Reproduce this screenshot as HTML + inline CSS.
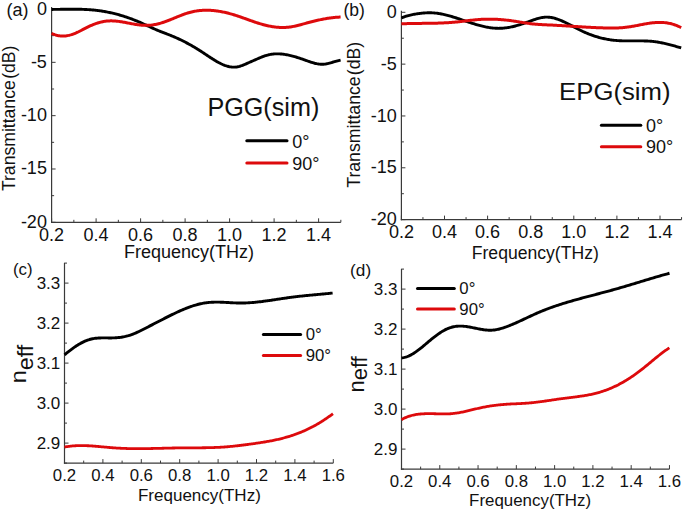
<!DOCTYPE html>
<html><head><meta charset="utf-8"><style>
html,body{margin:0;padding:0;background:#fff;}
svg{display:block;}
text{font-family:'Liberation Sans', sans-serif;fill:#111;}
</style></head><body>
<svg width="685" height="511" viewBox="0 0 685 511">
<rect width="685" height="511" fill="#fff"/>
<line x1="51.60" y1="7.00" x2="51.60" y2="222.92" stroke="#3a3a3a" stroke-width="1.2" stroke-linecap="butt"/>
<line x1="51.00" y1="222.32" x2="340.85" y2="222.32" stroke="#3a3a3a" stroke-width="1.2" stroke-linecap="butt"/>
<line x1="51.60" y1="222.32" x2="51.60" y2="218.32" stroke="#3a3a3a" stroke-width="1" stroke-linecap="butt"/>
<line x1="96.10" y1="222.32" x2="96.10" y2="218.32" stroke="#3a3a3a" stroke-width="1" stroke-linecap="butt"/>
<line x1="140.60" y1="222.32" x2="140.60" y2="218.32" stroke="#3a3a3a" stroke-width="1" stroke-linecap="butt"/>
<line x1="185.10" y1="222.32" x2="185.10" y2="218.32" stroke="#3a3a3a" stroke-width="1" stroke-linecap="butt"/>
<line x1="229.60" y1="222.32" x2="229.60" y2="218.32" stroke="#3a3a3a" stroke-width="1" stroke-linecap="butt"/>
<line x1="274.10" y1="222.32" x2="274.10" y2="218.32" stroke="#3a3a3a" stroke-width="1" stroke-linecap="butt"/>
<line x1="318.60" y1="222.32" x2="318.60" y2="218.32" stroke="#3a3a3a" stroke-width="1" stroke-linecap="butt"/>
<line x1="73.85" y1="222.32" x2="73.85" y2="219.82" stroke="#3a3a3a" stroke-width="1" stroke-linecap="butt"/>
<line x1="118.35" y1="222.32" x2="118.35" y2="219.82" stroke="#3a3a3a" stroke-width="1" stroke-linecap="butt"/>
<line x1="162.85" y1="222.32" x2="162.85" y2="219.82" stroke="#3a3a3a" stroke-width="1" stroke-linecap="butt"/>
<line x1="207.35" y1="222.32" x2="207.35" y2="219.82" stroke="#3a3a3a" stroke-width="1" stroke-linecap="butt"/>
<line x1="251.85" y1="222.32" x2="251.85" y2="219.82" stroke="#3a3a3a" stroke-width="1" stroke-linecap="butt"/>
<line x1="296.35" y1="222.32" x2="296.35" y2="219.82" stroke="#3a3a3a" stroke-width="1" stroke-linecap="butt"/>
<line x1="340.85" y1="222.32" x2="340.85" y2="219.82" stroke="#3a3a3a" stroke-width="1" stroke-linecap="butt"/>
<line x1="51.60" y1="9.00" x2="55.60" y2="9.00" stroke="#3a3a3a" stroke-width="1" stroke-linecap="butt"/>
<line x1="51.60" y1="62.33" x2="55.60" y2="62.33" stroke="#3a3a3a" stroke-width="1" stroke-linecap="butt"/>
<line x1="51.60" y1="115.66" x2="55.60" y2="115.66" stroke="#3a3a3a" stroke-width="1" stroke-linecap="butt"/>
<line x1="51.60" y1="168.99" x2="55.60" y2="168.99" stroke="#3a3a3a" stroke-width="1" stroke-linecap="butt"/>
<line x1="51.60" y1="222.32" x2="55.60" y2="222.32" stroke="#3a3a3a" stroke-width="1" stroke-linecap="butt"/>
<line x1="51.60" y1="35.66" x2="54.10" y2="35.66" stroke="#3a3a3a" stroke-width="1" stroke-linecap="butt"/>
<line x1="51.60" y1="89.00" x2="54.10" y2="89.00" stroke="#3a3a3a" stroke-width="1" stroke-linecap="butt"/>
<line x1="51.60" y1="142.33" x2="54.10" y2="142.33" stroke="#3a3a3a" stroke-width="1" stroke-linecap="butt"/>
<line x1="51.60" y1="195.66" x2="54.10" y2="195.66" stroke="#3a3a3a" stroke-width="1" stroke-linecap="butt"/>
<text x="46.90" y="14.50" font-size="18" text-anchor="end" >0</text>
<text x="46.90" y="67.83" font-size="18" text-anchor="end" >-5</text>
<text x="46.90" y="121.16" font-size="18" text-anchor="end" >-10</text>
<text x="46.90" y="174.49" font-size="18" text-anchor="end" >-15</text>
<text x="46.90" y="227.82" font-size="18" text-anchor="end" >-20</text>
<text x="51.60" y="241.20" font-size="18" text-anchor="middle" >0.2</text>
<text x="96.10" y="241.20" font-size="18" text-anchor="middle" >0.4</text>
<text x="140.60" y="241.20" font-size="18" text-anchor="middle" >0.6</text>
<text x="185.10" y="241.20" font-size="18" text-anchor="middle" >0.8</text>
<text x="229.60" y="241.20" font-size="18" text-anchor="middle" >1.0</text>
<text x="274.10" y="241.20" font-size="18" text-anchor="middle" >1.2</text>
<text x="318.60" y="241.20" font-size="18" text-anchor="middle" >1.4</text>
<text x="189.10" y="257.80" font-size="18" text-anchor="middle" >Frequency(THz)</text>
<text x="0" y="0" font-size="17.6" text-anchor="middle" transform="translate(14.6,118.3) rotate(-90)">Transmittance<tspan dx="1.5">(dB)</tspan></text>
<text x="6.50" y="15.90" font-size="18" text-anchor="start" >(a)</text>
<text x="207.40" y="115.70" font-size="25.2" text-anchor="start" >PGG(sim)</text>
<line x1="246.80" y1="140.70" x2="287.00" y2="140.70" stroke="#000" stroke-width="3.0" stroke-linecap="round"/>
<line x1="246.80" y1="163.10" x2="287.00" y2="163.10" stroke="#dd0a0c" stroke-width="3.0" stroke-linecap="round"/>
<text x="292.30" y="147.50" font-size="18" text-anchor="start" >0°</text>
<text x="292.30" y="169.60" font-size="18" text-anchor="start" >90°</text>
<path d="M51.6,9.44 L52.6,9.43 L53.6,9.42 L54.6,9.40 L55.6,9.39 L56.6,9.38 L57.6,9.36 L58.6,9.35 L59.6,9.33 L60.6,9.31 L61.6,9.30 L62.6,9.28 L63.6,9.27 L64.6,9.25 L65.6,9.24 L66.6,9.23 L67.6,9.22 L68.6,9.21 L69.6,9.20 L70.6,9.20 L71.6,9.19 L72.6,9.19 L73.6,9.19 L74.6,9.20 L75.6,9.20 L76.6,9.21 L77.6,9.23 L78.6,9.24 L79.6,9.27 L80.6,9.29 L81.6,9.32 L82.6,9.35 L83.6,9.39 L84.6,9.43 L85.6,9.48 L86.6,9.53 L87.6,9.59 L88.6,9.65 L89.6,9.72 L90.6,9.79 L91.6,9.87 L92.6,9.96 L93.6,10.05 L94.6,10.15 L95.6,10.25 L96.6,10.37 L97.6,10.49 L98.6,10.61 L99.6,10.75 L100.6,10.89 L101.6,11.04 L102.6,11.20 L103.6,11.36 L104.6,11.54 L105.6,11.72 L106.6,11.90 L107.6,12.10 L108.6,12.30 L109.6,12.51 L110.6,12.72 L111.6,12.95 L112.6,13.18 L113.6,13.42 L114.6,13.66 L115.6,13.92 L116.6,14.18 L117.6,14.45 L118.6,14.72 L119.6,15.00 L120.6,15.29 L121.6,15.59 L122.6,15.90 L123.6,16.21 L124.6,16.53 L125.6,16.85 L126.6,17.19 L127.6,17.53 L128.6,17.88 L129.6,18.24 L130.6,18.60 L131.6,18.97 L132.6,19.35 L133.6,19.74 L134.6,20.13 L135.6,20.53 L136.6,20.94 L137.6,21.35 L138.6,21.77 L139.6,22.20 L140.6,22.64 L141.6,23.09 L142.6,23.54 L143.6,23.99 L144.6,24.45 L145.6,24.91 L146.6,25.37 L147.6,25.84 L148.6,26.30 L149.6,26.77 L150.6,27.23 L151.6,27.69 L152.6,28.14 L153.6,28.59 L154.6,29.03 L155.6,29.47 L156.6,29.90 L157.6,30.32 L158.6,30.73 L159.6,31.13 L160.6,31.53 L161.6,31.92 L162.6,32.31 L163.6,32.69 L164.6,33.08 L165.6,33.46 L166.6,33.84 L167.6,34.23 L168.6,34.61 L169.6,35.00 L170.6,35.40 L171.6,35.81 L172.6,36.22 L173.6,36.64 L174.6,37.07 L175.6,37.50 L176.6,37.95 L177.6,38.40 L178.6,38.86 L179.6,39.33 L180.6,39.81 L181.6,40.30 L182.6,40.79 L183.6,41.30 L184.6,41.81 L185.6,42.32 L186.6,42.85 L187.6,43.39 L188.6,43.93 L189.6,44.48 L190.6,45.04 L191.6,45.60 L192.6,46.18 L193.6,46.76 L194.6,47.35 L195.6,47.95 L196.6,48.55 L197.6,49.17 L198.6,49.79 L199.6,50.42 L200.6,51.05 L201.6,51.70 L202.6,52.35 L203.6,53.01 L204.6,53.67 L205.6,54.34 L206.6,55.01 L207.6,55.68 L208.6,56.34 L209.6,57.01 L210.6,57.66 L211.6,58.32 L212.6,58.96 L213.6,59.59 L214.6,60.21 L215.6,60.81 L216.6,61.40 L217.6,61.97 L218.6,62.52 L219.6,63.04 L220.6,63.55 L221.6,64.03 L222.6,64.48 L223.6,64.90 L224.6,65.29 L225.6,65.65 L226.6,65.98 L227.6,66.27 L228.6,66.52 L229.6,66.73 L230.6,66.90 L231.6,67.03 L232.6,67.11 L233.6,67.15 L234.6,67.13 L235.6,67.07 L236.6,66.95 L237.6,66.79 L238.6,66.57 L239.6,66.30 L240.6,66.00 L241.6,65.66 L242.6,65.30 L243.6,64.90 L244.6,64.49 L245.6,64.06 L246.6,63.62 L247.6,63.17 L248.6,62.72 L249.6,62.28 L250.6,61.84 L251.6,61.40 L252.6,60.96 L253.6,60.53 L254.6,60.09 L255.6,59.66 L256.6,59.23 L257.6,58.79 L258.6,58.36 L259.6,57.93 L260.6,57.51 L261.6,57.09 L262.6,56.69 L263.6,56.31 L264.6,55.95 L265.6,55.62 L266.6,55.31 L267.6,55.04 L268.6,54.79 L269.6,54.58 L270.6,54.39 L271.6,54.23 L272.6,54.10 L273.6,54.00 L274.6,53.92 L275.6,53.87 L276.6,53.84 L277.6,53.84 L278.6,53.86 L279.6,53.90 L280.6,53.96 L281.6,54.04 L282.6,54.15 L283.6,54.27 L284.6,54.41 L285.6,54.57 L286.6,54.74 L287.6,54.94 L288.6,55.14 L289.6,55.36 L290.6,55.60 L291.6,55.85 L292.6,56.11 L293.6,56.38 L294.6,56.67 L295.6,56.96 L296.6,57.26 L297.6,57.58 L298.6,57.90 L299.6,58.22 L300.6,58.56 L301.6,58.90 L302.6,59.24 L303.6,59.59 L304.6,59.94 L305.6,60.29 L306.6,60.65 L307.6,61.01 L308.6,61.36 L309.6,61.71 L310.6,62.04 L311.6,62.37 L312.6,62.68 L313.6,62.97 L314.6,63.24 L315.6,63.48 L316.6,63.70 L317.6,63.89 L318.6,64.04 L319.6,64.16 L320.6,64.23 L321.6,64.26 L322.6,64.25 L323.6,64.19 L324.6,64.09 L325.6,63.95 L326.6,63.78 L327.6,63.58 L328.6,63.35 L329.6,63.10 L330.6,62.83 L331.6,62.55 L332.6,62.26 L333.6,61.97 L334.6,61.67 L335.6,61.37 L336.6,61.09 L337.6,60.81 L338.6,60.54 L339.6,60.30 L340.6,60.07" fill="none" stroke="#000" stroke-width="2.9" stroke-linejoin="round"/>
<path d="M51.6,33.33 L52.6,33.81 L53.6,34.23 L54.6,34.61 L55.6,34.95 L56.6,35.23 L57.6,35.47 L58.6,35.67 L59.6,35.82 L60.6,35.94 L61.6,36.01 L62.6,36.03 L63.6,36.02 L64.6,35.97 L65.6,35.89 L66.6,35.76 L67.6,35.60 L68.6,35.40 L69.6,35.17 L70.6,34.91 L71.6,34.61 L72.6,34.28 L73.6,33.92 L74.6,33.53 L75.6,33.12 L76.6,32.68 L77.6,32.21 L78.6,31.74 L79.6,31.24 L80.6,30.74 L81.6,30.22 L82.6,29.70 L83.6,29.18 L84.6,28.66 L85.6,28.14 L86.6,27.63 L87.6,27.13 L88.6,26.64 L89.6,26.17 L90.6,25.71 L91.6,25.27 L92.6,24.85 L93.6,24.44 L94.6,24.06 L95.6,23.69 L96.6,23.35 L97.6,23.02 L98.6,22.72 L99.6,22.43 L100.6,22.17 L101.6,21.93 L102.6,21.72 L103.6,21.53 L104.6,21.36 L105.6,21.22 L106.6,21.10 L107.6,21.01 L108.6,20.94 L109.6,20.89 L110.6,20.87 L111.6,20.87 L112.6,20.89 L113.6,20.93 L114.6,20.99 L115.6,21.06 L116.6,21.15 L117.6,21.26 L118.6,21.38 L119.6,21.51 L120.6,21.66 L121.6,21.82 L122.6,21.98 L123.6,22.16 L124.6,22.34 L125.6,22.53 L126.6,22.72 L127.6,22.91 L128.6,23.11 L129.6,23.31 L130.6,23.50 L131.6,23.69 L132.6,23.88 L133.6,24.07 L134.6,24.24 L135.6,24.41 L136.6,24.57 L137.6,24.72 L138.6,24.86 L139.6,24.98 L140.6,25.09 L141.6,25.19 L142.6,25.26 L143.6,25.32 L144.6,25.36 L145.6,25.37 L146.6,25.37 L147.6,25.35 L148.6,25.30 L149.6,25.24 L150.6,25.15 L151.6,25.05 L152.6,24.92 L153.6,24.77 L154.6,24.60 L155.6,24.41 L156.6,24.20 L157.6,23.97 L158.6,23.72 L159.6,23.45 L160.6,23.17 L161.6,22.86 L162.6,22.54 L163.6,22.21 L164.6,21.86 L165.6,21.51 L166.6,21.14 L167.6,20.76 L168.6,20.37 L169.6,19.98 L170.6,19.58 L171.6,19.17 L172.6,18.77 L173.6,18.36 L174.6,17.95 L175.6,17.54 L176.6,17.13 L177.6,16.72 L178.6,16.32 L179.6,15.92 L180.6,15.52 L181.6,15.14 L182.6,14.76 L183.6,14.39 L184.6,14.04 L185.6,13.69 L186.6,13.36 L187.6,13.04 L188.6,12.74 L189.6,12.45 L190.6,12.19 L191.6,11.94 L192.6,11.70 L193.6,11.49 L194.6,11.29 L195.6,11.11 L196.6,10.95 L197.6,10.81 L198.6,10.68 L199.6,10.56 L200.6,10.47 L201.6,10.39 L202.6,10.32 L203.6,10.27 L204.6,10.24 L205.6,10.22 L206.6,10.21 L207.6,10.22 L208.6,10.24 L209.6,10.28 L210.6,10.33 L211.6,10.39 L212.6,10.47 L213.6,10.56 L214.6,10.66 L215.6,10.78 L216.6,10.91 L217.6,11.05 L218.6,11.20 L219.6,11.36 L220.6,11.54 L221.6,11.72 L222.6,11.92 L223.6,12.13 L224.6,12.34 L225.6,12.57 L226.6,12.81 L227.6,13.06 L228.6,13.31 L229.6,13.58 L230.6,13.86 L231.6,14.14 L232.6,14.43 L233.6,14.73 L234.6,15.04 L235.6,15.36 L236.6,15.68 L237.6,16.01 L238.6,16.34 L239.6,16.68 L240.6,17.03 L241.6,17.38 L242.6,17.73 L243.6,18.08 L244.6,18.44 L245.6,18.79 L246.6,19.15 L247.6,19.51 L248.6,19.87 L249.6,20.22 L250.6,20.58 L251.6,20.93 L252.6,21.28 L253.6,21.62 L254.6,21.96 L255.6,22.30 L256.6,22.63 L257.6,22.95 L258.6,23.27 L259.6,23.58 L260.6,23.88 L261.6,24.17 L262.6,24.46 L263.6,24.73 L264.6,24.99 L265.6,25.25 L266.6,25.49 L267.6,25.72 L268.6,25.94 L269.6,26.14 L270.6,26.33 L271.6,26.51 L272.6,26.68 L273.6,26.83 L274.6,26.97 L275.6,27.10 L276.6,27.20 L277.6,27.30 L278.6,27.37 L279.6,27.44 L280.6,27.48 L281.6,27.51 L282.6,27.52 L283.6,27.51 L284.6,27.48 L285.6,27.44 L286.6,27.37 L287.6,27.29 L288.6,27.18 L289.6,27.06 L290.6,26.92 L291.6,26.75 L292.6,26.58 L293.6,26.38 L294.6,26.18 L295.6,25.96 L296.6,25.72 L297.6,25.48 L298.6,25.23 L299.6,24.97 L300.6,24.71 L301.6,24.44 L302.6,24.17 L303.6,23.89 L304.6,23.62 L305.6,23.34 L306.6,23.07 L307.6,22.80 L308.6,22.53 L309.6,22.27 L310.6,22.01 L311.6,21.75 L312.6,21.49 L313.6,21.24 L314.6,21.00 L315.6,20.76 L316.6,20.52 L317.6,20.29 L318.6,20.07 L319.6,19.85 L320.6,19.64 L321.6,19.43 L322.6,19.23 L323.6,19.04 L324.6,18.85 L325.6,18.67 L326.6,18.50 L327.6,18.34 L328.6,18.18 L329.6,18.03 L330.6,17.90 L331.6,17.77 L332.6,17.65 L333.6,17.53 L334.6,17.43 L335.6,17.34 L336.6,17.26 L337.6,17.19 L338.6,17.13 L339.6,17.08 L340.6,17.05" fill="none" stroke="#dd0a0c" stroke-width="3.0" stroke-linejoin="round"/>
<line x1="401.40" y1="10.80" x2="401.40" y2="220.22" stroke="#3a3a3a" stroke-width="1.2" stroke-linecap="butt"/>
<line x1="400.80" y1="219.62" x2="681.55" y2="219.62" stroke="#3a3a3a" stroke-width="1.2" stroke-linecap="butt"/>
<line x1="401.40" y1="219.62" x2="401.40" y2="215.62" stroke="#3a3a3a" stroke-width="1" stroke-linecap="butt"/>
<line x1="444.50" y1="219.62" x2="444.50" y2="215.62" stroke="#3a3a3a" stroke-width="1" stroke-linecap="butt"/>
<line x1="487.60" y1="219.62" x2="487.60" y2="215.62" stroke="#3a3a3a" stroke-width="1" stroke-linecap="butt"/>
<line x1="530.70" y1="219.62" x2="530.70" y2="215.62" stroke="#3a3a3a" stroke-width="1" stroke-linecap="butt"/>
<line x1="573.80" y1="219.62" x2="573.80" y2="215.62" stroke="#3a3a3a" stroke-width="1" stroke-linecap="butt"/>
<line x1="616.90" y1="219.62" x2="616.90" y2="215.62" stroke="#3a3a3a" stroke-width="1" stroke-linecap="butt"/>
<line x1="660.00" y1="219.62" x2="660.00" y2="215.62" stroke="#3a3a3a" stroke-width="1" stroke-linecap="butt"/>
<line x1="422.95" y1="219.62" x2="422.95" y2="217.12" stroke="#3a3a3a" stroke-width="1" stroke-linecap="butt"/>
<line x1="466.05" y1="219.62" x2="466.05" y2="217.12" stroke="#3a3a3a" stroke-width="1" stroke-linecap="butt"/>
<line x1="509.15" y1="219.62" x2="509.15" y2="217.12" stroke="#3a3a3a" stroke-width="1" stroke-linecap="butt"/>
<line x1="552.25" y1="219.62" x2="552.25" y2="217.12" stroke="#3a3a3a" stroke-width="1" stroke-linecap="butt"/>
<line x1="595.35" y1="219.62" x2="595.35" y2="217.12" stroke="#3a3a3a" stroke-width="1" stroke-linecap="butt"/>
<line x1="638.45" y1="219.62" x2="638.45" y2="217.12" stroke="#3a3a3a" stroke-width="1" stroke-linecap="butt"/>
<line x1="681.55" y1="219.62" x2="681.55" y2="217.12" stroke="#3a3a3a" stroke-width="1" stroke-linecap="butt"/>
<line x1="401.40" y1="12.30" x2="405.40" y2="12.30" stroke="#3a3a3a" stroke-width="1" stroke-linecap="butt"/>
<line x1="401.40" y1="64.13" x2="405.40" y2="64.13" stroke="#3a3a3a" stroke-width="1" stroke-linecap="butt"/>
<line x1="401.40" y1="115.96" x2="405.40" y2="115.96" stroke="#3a3a3a" stroke-width="1" stroke-linecap="butt"/>
<line x1="401.40" y1="167.79" x2="405.40" y2="167.79" stroke="#3a3a3a" stroke-width="1" stroke-linecap="butt"/>
<line x1="401.40" y1="219.62" x2="405.40" y2="219.62" stroke="#3a3a3a" stroke-width="1" stroke-linecap="butt"/>
<line x1="401.40" y1="38.22" x2="403.90" y2="38.22" stroke="#3a3a3a" stroke-width="1" stroke-linecap="butt"/>
<line x1="401.40" y1="90.05" x2="403.90" y2="90.05" stroke="#3a3a3a" stroke-width="1" stroke-linecap="butt"/>
<line x1="401.40" y1="141.88" x2="403.90" y2="141.88" stroke="#3a3a3a" stroke-width="1" stroke-linecap="butt"/>
<line x1="401.40" y1="193.71" x2="403.90" y2="193.71" stroke="#3a3a3a" stroke-width="1" stroke-linecap="butt"/>
<text x="396.80" y="17.90" font-size="18" text-anchor="end" >0</text>
<text x="396.80" y="69.73" font-size="18" text-anchor="end" >-5</text>
<text x="396.80" y="121.56" font-size="18" text-anchor="end" >-10</text>
<text x="396.80" y="173.39" font-size="18" text-anchor="end" >-15</text>
<text x="396.80" y="225.22" font-size="18" text-anchor="end" >-20</text>
<text x="401.40" y="237.60" font-size="18" text-anchor="middle" >0.2</text>
<text x="444.50" y="237.60" font-size="18" text-anchor="middle" >0.4</text>
<text x="487.60" y="237.60" font-size="18" text-anchor="middle" >0.6</text>
<text x="530.70" y="237.60" font-size="18" text-anchor="middle" >0.8</text>
<text x="573.80" y="237.60" font-size="18" text-anchor="middle" >1.0</text>
<text x="616.90" y="237.60" font-size="18" text-anchor="middle" >1.2</text>
<text x="660.00" y="237.60" font-size="18" text-anchor="middle" >1.4</text>
<text x="535.30" y="258.80" font-size="17.6" text-anchor="middle" >Frequency(THz)</text>
<text x="0" y="0" font-size="17.7" text-anchor="middle" transform="translate(360.4,114.75) rotate(-90)">Transmittance<tspan dx="1.2">(dB)</tspan></text>
<text x="343.50" y="15.80" font-size="17.5" text-anchor="start" >(b)</text>
<text x="0" y="0" font-size="24.5" transform="translate(559.1,99.6) scale(1.05,1)">EPG(sim)</text>
<line x1="601.40" y1="125.30" x2="640.80" y2="125.30" stroke="#000" stroke-width="3.0" stroke-linecap="round"/>
<line x1="601.40" y1="146.80" x2="640.80" y2="146.80" stroke="#dd0a0c" stroke-width="3.0" stroke-linecap="round"/>
<text x="646.00" y="131.60" font-size="18" text-anchor="start" >0°</text>
<text x="646.00" y="153.10" font-size="18" text-anchor="start" >90°</text>
<path d="M401.4,17.98 L402.4,17.56 L403.4,17.17 L404.4,16.80 L405.4,16.46 L406.4,16.14 L407.4,15.84 L408.4,15.56 L409.4,15.30 L410.4,15.06 L411.4,14.83 L412.4,14.62 L413.4,14.43 L414.4,14.24 L415.4,14.07 L416.4,13.91 L417.4,13.76 L418.4,13.62 L419.4,13.48 L420.4,13.36 L421.4,13.24 L422.4,13.14 L423.4,13.04 L424.4,12.96 L425.4,12.89 L426.4,12.84 L427.4,12.80 L428.4,12.77 L429.4,12.76 L430.4,12.77 L431.4,12.79 L432.4,12.83 L433.4,12.89 L434.4,12.97 L435.4,13.07 L436.4,13.18 L437.4,13.30 L438.4,13.45 L439.4,13.60 L440.4,13.78 L441.4,13.96 L442.4,14.16 L443.4,14.37 L444.4,14.60 L445.4,14.83 L446.4,15.08 L447.4,15.33 L448.4,15.60 L449.4,15.87 L450.4,16.16 L451.4,16.45 L452.4,16.75 L453.4,17.05 L454.4,17.36 L455.4,17.68 L456.4,18.00 L457.4,18.33 L458.4,18.65 L459.4,18.99 L460.4,19.32 L461.4,19.66 L462.4,20.00 L463.4,20.34 L464.4,20.68 L465.4,21.02 L466.4,21.36 L467.4,21.70 L468.4,22.03 L469.4,22.36 L470.4,22.69 L471.4,23.02 L472.4,23.34 L473.4,23.65 L474.4,23.96 L475.4,24.27 L476.4,24.57 L477.4,24.86 L478.4,25.14 L479.4,25.41 L480.4,25.68 L481.4,25.94 L482.4,26.18 L483.4,26.42 L484.4,26.64 L485.4,26.86 L486.4,27.06 L487.4,27.24 L488.4,27.42 L489.4,27.58 L490.4,27.73 L491.4,27.86 L492.4,27.98 L493.4,28.08 L494.4,28.16 L495.4,28.23 L496.4,28.28 L497.4,28.31 L498.4,28.33 L499.4,28.32 L500.4,28.30 L501.4,28.26 L502.4,28.20 L503.4,28.13 L504.4,28.04 L505.4,27.93 L506.4,27.81 L507.4,27.66 L508.4,27.51 L509.4,27.34 L510.4,27.15 L511.4,26.95 L512.4,26.73 L513.4,26.50 L514.4,26.25 L515.4,25.99 L516.4,25.72 L517.4,25.43 L518.4,25.14 L519.4,24.83 L520.4,24.51 L521.4,24.19 L522.4,23.86 L523.4,23.52 L524.4,23.17 L525.4,22.82 L526.4,22.47 L527.4,22.11 L528.4,21.75 L529.4,21.38 L530.4,21.02 L531.4,20.65 L532.4,20.29 L533.4,19.94 L534.4,19.60 L535.4,19.27 L536.4,18.95 L537.4,18.65 L538.4,18.37 L539.4,18.12 L540.4,17.88 L541.4,17.67 L542.4,17.50 L543.4,17.35 L544.4,17.24 L545.4,17.16 L546.4,17.13 L547.4,17.13 L548.4,17.18 L549.4,17.26 L550.4,17.38 L551.4,17.54 L552.4,17.73 L553.4,17.95 L554.4,18.20 L555.4,18.49 L556.4,18.79 L557.4,19.13 L558.4,19.49 L559.4,19.87 L560.4,20.27 L561.4,20.69 L562.4,21.13 L563.4,21.58 L564.4,22.05 L565.4,22.53 L566.4,23.02 L567.4,23.52 L568.4,24.03 L569.4,24.55 L570.4,25.07 L571.4,25.60 L572.4,26.12 L573.4,26.65 L574.4,27.18 L575.4,27.71 L576.4,28.24 L577.4,28.76 L578.4,29.27 L579.4,29.78 L580.4,30.27 L581.4,30.76 L582.4,31.24 L583.4,31.70 L584.4,32.15 L585.4,32.59 L586.4,33.02 L587.4,33.43 L588.4,33.84 L589.4,34.23 L590.4,34.61 L591.4,34.98 L592.4,35.34 L593.4,35.69 L594.4,36.02 L595.4,36.35 L596.4,36.66 L597.4,36.96 L598.4,37.25 L599.4,37.53 L600.4,37.79 L601.4,38.05 L602.4,38.29 L603.4,38.52 L604.4,38.74 L605.4,38.95 L606.4,39.15 L607.4,39.34 L608.4,39.51 L609.4,39.68 L610.4,39.83 L611.4,39.97 L612.4,40.10 L613.4,40.22 L614.4,40.33 L615.4,40.43 L616.4,40.51 L617.4,40.59 L618.4,40.66 L619.4,40.71 L620.4,40.76 L621.4,40.80 L622.4,40.84 L623.4,40.86 L624.4,40.89 L625.4,40.90 L626.4,40.91 L627.4,40.92 L628.4,40.92 L629.4,40.92 L630.4,40.92 L631.4,40.91 L632.4,40.90 L633.4,40.90 L634.4,40.89 L635.4,40.88 L636.4,40.88 L637.4,40.87 L638.4,40.87 L639.4,40.87 L640.4,40.88 L641.4,40.88 L642.4,40.90 L643.4,40.92 L644.4,40.94 L645.4,40.97 L646.4,41.01 L647.4,41.05 L648.4,41.11 L649.4,41.17 L650.4,41.24 L651.4,41.32 L652.4,41.42 L653.4,41.52 L654.4,41.64 L655.4,41.76 L656.4,41.90 L657.4,42.05 L658.4,42.21 L659.4,42.38 L660.4,42.57 L661.4,42.76 L662.4,42.96 L663.4,43.16 L664.4,43.38 L665.4,43.61 L666.4,43.84 L667.4,44.08 L668.4,44.33 L669.4,44.58 L670.4,44.84 L671.4,45.11 L672.4,45.38 L673.4,45.66 L674.4,45.94 L675.4,46.23 L676.4,46.52 L677.4,46.81 L678.4,47.11 L679.4,47.41 L680.4,47.71 L681.2,47.95" fill="none" stroke="#000" stroke-width="2.9" stroke-linejoin="round"/>
<path d="M401.4,23.85 L402.4,23.80 L403.4,23.76 L404.4,23.72 L405.4,23.68 L406.4,23.65 L407.4,23.62 L408.4,23.59 L409.4,23.57 L410.4,23.54 L411.4,23.52 L412.4,23.50 L413.4,23.49 L414.4,23.47 L415.4,23.45 L416.4,23.44 L417.4,23.43 L418.4,23.42 L419.4,23.40 L420.4,23.39 L421.4,23.38 L422.4,23.37 L423.4,23.36 L424.4,23.35 L425.4,23.34 L426.4,23.33 L427.4,23.32 L428.4,23.31 L429.4,23.29 L430.4,23.28 L431.4,23.26 L432.4,23.25 L433.4,23.23 L434.4,23.21 L435.4,23.18 L436.4,23.16 L437.4,23.13 L438.4,23.10 L439.4,23.07 L440.4,23.04 L441.4,23.00 L442.4,22.96 L443.4,22.92 L444.4,22.87 L445.4,22.82 L446.4,22.77 L447.4,22.71 L448.4,22.65 L449.4,22.58 L450.4,22.51 L451.4,22.44 L452.4,22.36 L453.4,22.27 L454.4,22.18 L455.4,22.09 L456.4,21.99 L457.4,21.89 L458.4,21.78 L459.4,21.67 L460.4,21.55 L461.4,21.44 L462.4,21.32 L463.4,21.20 L464.4,21.08 L465.4,20.95 L466.4,20.83 L467.4,20.71 L468.4,20.59 L469.4,20.47 L470.4,20.35 L471.4,20.24 L472.4,20.13 L473.4,20.02 L474.4,19.92 L475.4,19.82 L476.4,19.72 L477.4,19.63 L478.4,19.55 L479.4,19.48 L480.4,19.41 L481.4,19.34 L482.4,19.29 L483.4,19.24 L484.4,19.21 L485.4,19.17 L486.4,19.15 L487.4,19.14 L488.4,19.13 L489.4,19.13 L490.4,19.13 L491.4,19.15 L492.4,19.17 L493.4,19.19 L494.4,19.23 L495.4,19.27 L496.4,19.31 L497.4,19.37 L498.4,19.43 L499.4,19.49 L500.4,19.57 L501.4,19.64 L502.4,19.73 L503.4,19.82 L504.4,19.92 L505.4,20.02 L506.4,20.12 L507.4,20.24 L508.4,20.36 L509.4,20.48 L510.4,20.61 L511.4,20.74 L512.4,20.88 L513.4,21.02 L514.4,21.17 L515.4,21.32 L516.4,21.48 L517.4,21.64 L518.4,21.80 L519.4,21.96 L520.4,22.12 L521.4,22.28 L522.4,22.45 L523.4,22.61 L524.4,22.76 L525.4,22.92 L526.4,23.07 L527.4,23.22 L528.4,23.37 L529.4,23.51 L530.4,23.64 L531.4,23.77 L532.4,23.89 L533.4,24.00 L534.4,24.11 L535.4,24.20 L536.4,24.29 L537.4,24.37 L538.4,24.44 L539.4,24.50 L540.4,24.56 L541.4,24.61 L542.4,24.66 L543.4,24.71 L544.4,24.75 L545.4,24.80 L546.4,24.84 L547.4,24.88 L548.4,24.92 L549.4,24.97 L550.4,25.01 L551.4,25.06 L552.4,25.11 L553.4,25.16 L554.4,25.21 L555.4,25.27 L556.4,25.32 L557.4,25.38 L558.4,25.43 L559.4,25.49 L560.4,25.55 L561.4,25.61 L562.4,25.67 L563.4,25.73 L564.4,25.79 L565.4,25.85 L566.4,25.91 L567.4,25.98 L568.4,26.04 L569.4,26.10 L570.4,26.17 L571.4,26.23 L572.4,26.29 L573.4,26.36 L574.4,26.42 L575.4,26.48 L576.4,26.55 L577.4,26.61 L578.4,26.67 L579.4,26.73 L580.4,26.80 L581.4,26.86 L582.4,26.92 L583.4,26.98 L584.4,27.04 L585.4,27.09 L586.4,27.15 L587.4,27.21 L588.4,27.26 L589.4,27.31 L590.4,27.37 L591.4,27.42 L592.4,27.47 L593.4,27.52 L594.4,27.56 L595.4,27.61 L596.4,27.65 L597.4,27.69 L598.4,27.73 L599.4,27.77 L600.4,27.81 L601.4,27.84 L602.4,27.87 L603.4,27.90 L604.4,27.93 L605.4,27.96 L606.4,27.98 L607.4,28.00 L608.4,28.01 L609.4,28.02 L610.4,28.03 L611.4,28.03 L612.4,28.03 L613.4,28.02 L614.4,28.00 L615.4,27.98 L616.4,27.95 L617.4,27.92 L618.4,27.88 L619.4,27.83 L620.4,27.77 L621.4,27.70 L622.4,27.63 L623.4,27.54 L624.4,27.45 L625.4,27.34 L626.4,27.23 L627.4,27.11 L628.4,26.97 L629.4,26.82 L630.4,26.67 L631.4,26.51 L632.4,26.34 L633.4,26.16 L634.4,25.98 L635.4,25.79 L636.4,25.60 L637.4,25.41 L638.4,25.21 L639.4,25.02 L640.4,24.82 L641.4,24.63 L642.4,24.44 L643.4,24.25 L644.4,24.07 L645.4,23.89 L646.4,23.71 L647.4,23.55 L648.4,23.39 L649.4,23.24 L650.4,23.10 L651.4,22.97 L652.4,22.85 L653.4,22.74 L654.4,22.65 L655.4,22.57 L656.4,22.51 L657.4,22.46 L658.4,22.43 L659.4,22.42 L660.4,22.42 L661.4,22.44 L662.4,22.48 L663.4,22.54 L664.4,22.63 L665.4,22.73 L666.4,22.85 L667.4,23.00 L668.4,23.17 L669.4,23.36 L670.4,23.58 L671.4,23.83 L672.4,24.10 L673.4,24.39 L674.4,24.71 L675.4,25.06 L676.4,25.44 L677.4,25.85 L678.4,26.28 L679.4,26.75 L680.4,27.25 L681.2,27.66" fill="none" stroke="#dd0a0c" stroke-width="3.0" stroke-linejoin="round"/>
<line x1="64.50" y1="262.80" x2="64.50" y2="463.70" stroke="#3a3a3a" stroke-width="1.2" stroke-linecap="butt"/>
<line x1="63.90" y1="463.10" x2="333.30" y2="463.10" stroke="#3a3a3a" stroke-width="1.2" stroke-linecap="butt"/>
<line x1="64.50" y1="463.10" x2="64.50" y2="459.10" stroke="#3a3a3a" stroke-width="1" stroke-linecap="butt"/>
<line x1="102.90" y1="463.10" x2="102.90" y2="459.10" stroke="#3a3a3a" stroke-width="1" stroke-linecap="butt"/>
<line x1="141.30" y1="463.10" x2="141.30" y2="459.10" stroke="#3a3a3a" stroke-width="1" stroke-linecap="butt"/>
<line x1="179.70" y1="463.10" x2="179.70" y2="459.10" stroke="#3a3a3a" stroke-width="1" stroke-linecap="butt"/>
<line x1="218.10" y1="463.10" x2="218.10" y2="459.10" stroke="#3a3a3a" stroke-width="1" stroke-linecap="butt"/>
<line x1="256.50" y1="463.10" x2="256.50" y2="459.10" stroke="#3a3a3a" stroke-width="1" stroke-linecap="butt"/>
<line x1="294.90" y1="463.10" x2="294.90" y2="459.10" stroke="#3a3a3a" stroke-width="1" stroke-linecap="butt"/>
<line x1="333.30" y1="463.10" x2="333.30" y2="459.10" stroke="#3a3a3a" stroke-width="1" stroke-linecap="butt"/>
<line x1="83.70" y1="463.10" x2="83.70" y2="460.60" stroke="#3a3a3a" stroke-width="1" stroke-linecap="butt"/>
<line x1="122.10" y1="463.10" x2="122.10" y2="460.60" stroke="#3a3a3a" stroke-width="1" stroke-linecap="butt"/>
<line x1="160.50" y1="463.10" x2="160.50" y2="460.60" stroke="#3a3a3a" stroke-width="1" stroke-linecap="butt"/>
<line x1="198.90" y1="463.10" x2="198.90" y2="460.60" stroke="#3a3a3a" stroke-width="1" stroke-linecap="butt"/>
<line x1="237.30" y1="463.10" x2="237.30" y2="460.60" stroke="#3a3a3a" stroke-width="1" stroke-linecap="butt"/>
<line x1="275.70" y1="463.10" x2="275.70" y2="460.60" stroke="#3a3a3a" stroke-width="1" stroke-linecap="butt"/>
<line x1="314.10" y1="463.10" x2="314.10" y2="460.60" stroke="#3a3a3a" stroke-width="1" stroke-linecap="butt"/>
<line x1="64.50" y1="283.10" x2="68.50" y2="283.10" stroke="#3a3a3a" stroke-width="1" stroke-linecap="butt"/>
<line x1="64.50" y1="323.10" x2="68.50" y2="323.10" stroke="#3a3a3a" stroke-width="1" stroke-linecap="butt"/>
<line x1="64.50" y1="363.10" x2="68.50" y2="363.10" stroke="#3a3a3a" stroke-width="1" stroke-linecap="butt"/>
<line x1="64.50" y1="403.10" x2="68.50" y2="403.10" stroke="#3a3a3a" stroke-width="1" stroke-linecap="butt"/>
<line x1="64.50" y1="443.10" x2="68.50" y2="443.10" stroke="#3a3a3a" stroke-width="1" stroke-linecap="butt"/>
<line x1="64.50" y1="263.10" x2="67.00" y2="263.10" stroke="#3a3a3a" stroke-width="1" stroke-linecap="butt"/>
<line x1="64.50" y1="303.10" x2="67.00" y2="303.10" stroke="#3a3a3a" stroke-width="1" stroke-linecap="butt"/>
<line x1="64.50" y1="343.10" x2="67.00" y2="343.10" stroke="#3a3a3a" stroke-width="1" stroke-linecap="butt"/>
<line x1="64.50" y1="383.10" x2="67.00" y2="383.10" stroke="#3a3a3a" stroke-width="1" stroke-linecap="butt"/>
<line x1="64.50" y1="423.10" x2="67.00" y2="423.10" stroke="#3a3a3a" stroke-width="1" stroke-linecap="butt"/>
<line x1="64.50" y1="463.10" x2="67.00" y2="463.10" stroke="#3a3a3a" stroke-width="1" stroke-linecap="butt"/>
<text x="60.30" y="288.60" font-size="17.0" text-anchor="end" >3.3</text>
<text x="60.30" y="328.60" font-size="17.0" text-anchor="end" >3.2</text>
<text x="60.30" y="368.60" font-size="17.0" text-anchor="end" >3.1</text>
<text x="60.30" y="408.60" font-size="17.0" text-anchor="end" >3.0</text>
<text x="60.30" y="448.60" font-size="17.0" text-anchor="end" >2.9</text>
<text x="64.50" y="480.60" font-size="16.8" text-anchor="middle" >0.2</text>
<text x="102.90" y="480.60" font-size="16.8" text-anchor="middle" >0.4</text>
<text x="141.30" y="480.60" font-size="16.8" text-anchor="middle" >0.6</text>
<text x="179.70" y="480.60" font-size="16.8" text-anchor="middle" >0.8</text>
<text x="218.10" y="480.60" font-size="16.8" text-anchor="middle" >1.0</text>
<text x="256.50" y="480.60" font-size="16.8" text-anchor="middle" >1.2</text>
<text x="294.90" y="480.60" font-size="16.8" text-anchor="middle" >1.4</text>
<text x="333.30" y="480.60" font-size="16.8" text-anchor="middle" >1.6</text>
<text x="199.40" y="501.00" font-size="17" text-anchor="middle" >Frequency(THz)</text>
<text x="0" y="0" font-size="22" transform="translate(25.9,383.2) rotate(-90) scale(1.06,1)">n<tspan dy="6.6">eff</tspan></text>
<text x="13.00" y="275.10" font-size="16.8" text-anchor="start" >(c)</text>
<line x1="263.40" y1="334.40" x2="300.60" y2="334.40" stroke="#000" stroke-width="3.0" stroke-linecap="round"/>
<line x1="263.40" y1="355.50" x2="300.60" y2="355.50" stroke="#dd0a0c" stroke-width="3.0" stroke-linecap="round"/>
<text x="305.70" y="340.20" font-size="16.8" text-anchor="start" >0°</text>
<text x="305.70" y="361.20" font-size="16.8" text-anchor="start" >90°</text>
<path d="M64.5,354.89 L65.5,354.06 L66.5,353.24 L67.5,352.43 L68.5,351.63 L69.5,350.85 L70.5,350.08 L71.5,349.33 L72.5,348.59 L73.5,347.87 L74.5,347.17 L75.5,346.49 L76.5,345.83 L77.5,345.19 L78.5,344.57 L79.5,343.98 L80.5,343.40 L81.5,342.86 L82.5,342.34 L83.5,341.85 L84.5,341.38 L85.5,340.94 L86.5,340.54 L87.5,340.16 L88.5,339.82 L89.5,339.51 L90.5,339.23 L91.5,338.98 L92.5,338.77 L93.5,338.59 L94.5,338.43 L95.5,338.30 L96.5,338.19 L97.5,338.10 L98.5,338.03 L99.5,337.98 L100.5,337.94 L101.5,337.92 L102.5,337.90 L103.5,337.90 L104.5,337.90 L105.5,337.91 L106.5,337.91 L107.5,337.92 L108.5,337.93 L109.5,337.94 L110.5,337.94 L111.5,337.93 L112.5,337.91 L113.5,337.89 L114.5,337.85 L115.5,337.80 L116.5,337.73 L117.5,337.65 L118.5,337.56 L119.5,337.45 L120.5,337.33 L121.5,337.19 L122.5,337.03 L123.5,336.85 L124.5,336.65 L125.5,336.44 L126.5,336.20 L127.5,335.94 L128.5,335.66 L129.5,335.35 L130.5,335.02 L131.5,334.67 L132.5,334.30 L133.5,333.91 L134.5,333.50 L135.5,333.07 L136.5,332.63 L137.5,332.18 L138.5,331.71 L139.5,331.23 L140.5,330.75 L141.5,330.25 L142.5,329.75 L143.5,329.24 L144.5,328.73 L145.5,328.22 L146.5,327.70 L147.5,327.19 L148.5,326.67 L149.5,326.15 L150.5,325.63 L151.5,325.12 L152.5,324.60 L153.5,324.08 L154.5,323.56 L155.5,323.04 L156.5,322.52 L157.5,322.00 L158.5,321.48 L159.5,320.97 L160.5,320.45 L161.5,319.94 L162.5,319.43 L163.5,318.92 L164.5,318.41 L165.5,317.90 L166.5,317.39 L167.5,316.89 L168.5,316.39 L169.5,315.90 L170.5,315.40 L171.5,314.91 L172.5,314.42 L173.5,313.94 L174.5,313.46 L175.5,312.99 L176.5,312.52 L177.5,312.05 L178.5,311.59 L179.5,311.14 L180.5,310.70 L181.5,310.26 L182.5,309.82 L183.5,309.40 L184.5,308.99 L185.5,308.58 L186.5,308.18 L187.5,307.79 L188.5,307.41 L189.5,307.04 L190.5,306.69 L191.5,306.34 L192.5,306.00 L193.5,305.68 L194.5,305.37 L195.5,305.07 L196.5,304.78 L197.5,304.51 L198.5,304.25 L199.5,304.01 L200.5,303.77 L201.5,303.56 L202.5,303.36 L203.5,303.18 L204.5,303.01 L205.5,302.86 L206.5,302.72 L207.5,302.60 L208.5,302.50 L209.5,302.41 L210.5,302.33 L211.5,302.27 L212.5,302.22 L213.5,302.18 L214.5,302.15 L215.5,302.14 L216.5,302.13 L217.5,302.13 L218.5,302.14 L219.5,302.16 L220.5,302.19 L221.5,302.22 L222.5,302.26 L223.5,302.30 L224.5,302.35 L225.5,302.40 L226.5,302.45 L227.5,302.51 L228.5,302.56 L229.5,302.62 L230.5,302.68 L231.5,302.73 L232.5,302.79 L233.5,302.84 L234.5,302.88 L235.5,302.92 L236.5,302.96 L237.5,302.99 L238.5,303.01 L239.5,303.02 L240.5,303.03 L241.5,303.03 L242.5,303.02 L243.5,303.00 L244.5,302.97 L245.5,302.94 L246.5,302.90 L247.5,302.85 L248.5,302.80 L249.5,302.73 L250.5,302.67 L251.5,302.59 L252.5,302.51 L253.5,302.43 L254.5,302.34 L255.5,302.24 L256.5,302.14 L257.5,302.03 L258.5,301.92 L259.5,301.81 L260.5,301.69 L261.5,301.57 L262.5,301.44 L263.5,301.31 L264.5,301.18 L265.5,301.05 L266.5,300.91 L267.5,300.77 L268.5,300.62 L269.5,300.48 L270.5,300.33 L271.5,300.19 L272.5,300.04 L273.5,299.89 L274.5,299.73 L275.5,299.58 L276.5,299.43 L277.5,299.28 L278.5,299.13 L279.5,298.97 L280.5,298.82 L281.5,298.67 L282.5,298.52 L283.5,298.37 L284.5,298.22 L285.5,298.08 L286.5,297.94 L287.5,297.79 L288.5,297.65 L289.5,297.52 L290.5,297.38 L291.5,297.25 L292.5,297.12 L293.5,297.00 L294.5,296.88 L295.5,296.75 L296.5,296.64 L297.5,296.52 L298.5,296.41 L299.5,296.29 L300.5,296.18 L301.5,296.08 L302.5,295.97 L303.5,295.87 L304.5,295.76 L305.5,295.66 L306.5,295.56 L307.5,295.46 L308.5,295.36 L309.5,295.27 L310.5,295.17 L311.5,295.07 L312.5,294.98 L313.5,294.88 L314.5,294.79 L315.5,294.70 L316.5,294.60 L317.5,294.51 L318.5,294.42 L319.5,294.33 L320.5,294.23 L321.5,294.14 L322.5,294.05 L323.5,293.95 L324.5,293.86 L325.5,293.76 L326.5,293.67 L327.5,293.57 L328.5,293.48 L329.5,293.38 L330.5,293.28 L331.5,293.18 L332.5,293.07 L332.6,293.06" fill="none" stroke="#000" stroke-width="2.9" stroke-linejoin="round"/>
<path d="M64.5,447.09 L65.5,446.91 L66.5,446.73 L67.5,446.57 L68.5,446.43 L69.5,446.29 L70.5,446.17 L71.5,446.06 L72.5,445.97 L73.5,445.88 L74.5,445.81 L75.5,445.75 L76.5,445.70 L77.5,445.66 L78.5,445.63 L79.5,445.60 L80.5,445.59 L81.5,445.59 L82.5,445.59 L83.5,445.60 L84.5,445.62 L85.5,445.65 L86.5,445.69 L87.5,445.73 L88.5,445.77 L89.5,445.83 L90.5,445.88 L91.5,445.95 L92.5,446.01 L93.5,446.09 L94.5,446.16 L95.5,446.24 L96.5,446.32 L97.5,446.41 L98.5,446.49 L99.5,446.58 L100.5,446.67 L101.5,446.77 L102.5,446.86 L103.5,446.95 L104.5,447.05 L105.5,447.14 L106.5,447.23 L107.5,447.32 L108.5,447.41 L109.5,447.50 L110.5,447.59 L111.5,447.67 L112.5,447.75 L113.5,447.83 L114.5,447.90 L115.5,447.97 L116.5,448.04 L117.5,448.10 L118.5,448.16 L119.5,448.22 L120.5,448.27 L121.5,448.31 L122.5,448.36 L123.5,448.40 L124.5,448.44 L125.5,448.47 L126.5,448.50 L127.5,448.53 L128.5,448.56 L129.5,448.58 L130.5,448.60 L131.5,448.61 L132.5,448.63 L133.5,448.64 L134.5,448.65 L135.5,448.65 L136.5,448.66 L137.5,448.66 L138.5,448.66 L139.5,448.66 L140.5,448.66 L141.5,448.65 L142.5,448.64 L143.5,448.63 L144.5,448.62 L145.5,448.61 L146.5,448.60 L147.5,448.58 L148.5,448.57 L149.5,448.55 L150.5,448.53 L151.5,448.51 L152.5,448.49 L153.5,448.47 L154.5,448.45 L155.5,448.42 L156.5,448.40 L157.5,448.38 L158.5,448.35 L159.5,448.33 L160.5,448.30 L161.5,448.28 L162.5,448.25 L163.5,448.23 L164.5,448.21 L165.5,448.18 L166.5,448.16 L167.5,448.13 L168.5,448.11 L169.5,448.09 L170.5,448.06 L171.5,448.04 L172.5,448.02 L173.5,448.00 L174.5,447.98 L175.5,447.96 L176.5,447.95 L177.5,447.93 L178.5,447.92 L179.5,447.90 L180.5,447.89 L181.5,447.88 L182.5,447.87 L183.5,447.86 L184.5,447.86 L185.5,447.85 L186.5,447.85 L187.5,447.84 L188.5,447.84 L189.5,447.84 L190.5,447.83 L191.5,447.83 L192.5,447.83 L193.5,447.82 L194.5,447.82 L195.5,447.82 L196.5,447.81 L197.5,447.81 L198.5,447.80 L199.5,447.80 L200.5,447.79 L201.5,447.78 L202.5,447.77 L203.5,447.76 L204.5,447.75 L205.5,447.73 L206.5,447.72 L207.5,447.70 L208.5,447.68 L209.5,447.66 L210.5,447.63 L211.5,447.61 L212.5,447.58 L213.5,447.54 L214.5,447.51 L215.5,447.47 L216.5,447.43 L217.5,447.39 L218.5,447.34 L219.5,447.29 L220.5,447.23 L221.5,447.18 L222.5,447.11 L223.5,447.05 L224.5,446.98 L225.5,446.90 L226.5,446.83 L227.5,446.74 L228.5,446.66 L229.5,446.57 L230.5,446.48 L231.5,446.38 L232.5,446.28 L233.5,446.18 L234.5,446.07 L235.5,445.97 L236.5,445.86 L237.5,445.74 L238.5,445.63 L239.5,445.51 L240.5,445.39 L241.5,445.26 L242.5,445.14 L243.5,445.01 L244.5,444.88 L245.5,444.75 L246.5,444.62 L247.5,444.49 L248.5,444.35 L249.5,444.22 L250.5,444.08 L251.5,443.94 L252.5,443.80 L253.5,443.66 L254.5,443.52 L255.5,443.38 L256.5,443.23 L257.5,443.09 L258.5,442.94 L259.5,442.79 L260.5,442.64 L261.5,442.48 L262.5,442.33 L263.5,442.17 L264.5,442.00 L265.5,441.84 L266.5,441.67 L267.5,441.49 L268.5,441.32 L269.5,441.13 L270.5,440.95 L271.5,440.76 L272.5,440.56 L273.5,440.36 L274.5,440.15 L275.5,439.94 L276.5,439.72 L277.5,439.50 L278.5,439.27 L279.5,439.03 L280.5,438.79 L281.5,438.54 L282.5,438.28 L283.5,438.02 L284.5,437.75 L285.5,437.47 L286.5,437.19 L287.5,436.89 L288.5,436.59 L289.5,436.29 L290.5,435.97 L291.5,435.65 L292.5,435.32 L293.5,434.98 L294.5,434.63 L295.5,434.27 L296.5,433.91 L297.5,433.54 L298.5,433.15 L299.5,432.76 L300.5,432.36 L301.5,431.95 L302.5,431.53 L303.5,431.11 L304.5,430.67 L305.5,430.22 L306.5,429.76 L307.5,429.30 L308.5,428.82 L309.5,428.33 L310.5,427.83 L311.5,427.32 L312.5,426.80 L313.5,426.28 L314.5,425.73 L315.5,425.18 L316.5,424.62 L317.5,424.05 L318.5,423.46 L319.5,422.86 L320.5,422.26 L321.5,421.64 L322.5,421.00 L323.5,420.36 L324.5,419.70 L325.5,419.04 L326.5,418.36 L327.5,417.66 L328.5,416.96 L329.5,416.24 L330.5,415.51 L331.5,414.76 L332.5,414.01 L332.9,413.70" fill="none" stroke="#dd0a0c" stroke-width="2.8" stroke-linejoin="round"/>
<line x1="401.50" y1="268.80" x2="401.50" y2="469.70" stroke="#3a3a3a" stroke-width="1.2" stroke-linecap="butt"/>
<line x1="400.90" y1="469.10" x2="669.46" y2="469.10" stroke="#3a3a3a" stroke-width="1.2" stroke-linecap="butt"/>
<line x1="401.50" y1="469.10" x2="401.50" y2="465.10" stroke="#3a3a3a" stroke-width="1" stroke-linecap="butt"/>
<line x1="439.78" y1="469.10" x2="439.78" y2="465.10" stroke="#3a3a3a" stroke-width="1" stroke-linecap="butt"/>
<line x1="478.06" y1="469.10" x2="478.06" y2="465.10" stroke="#3a3a3a" stroke-width="1" stroke-linecap="butt"/>
<line x1="516.34" y1="469.10" x2="516.34" y2="465.10" stroke="#3a3a3a" stroke-width="1" stroke-linecap="butt"/>
<line x1="554.62" y1="469.10" x2="554.62" y2="465.10" stroke="#3a3a3a" stroke-width="1" stroke-linecap="butt"/>
<line x1="592.90" y1="469.10" x2="592.90" y2="465.10" stroke="#3a3a3a" stroke-width="1" stroke-linecap="butt"/>
<line x1="631.18" y1="469.10" x2="631.18" y2="465.10" stroke="#3a3a3a" stroke-width="1" stroke-linecap="butt"/>
<line x1="669.46" y1="469.10" x2="669.46" y2="465.10" stroke="#3a3a3a" stroke-width="1" stroke-linecap="butt"/>
<line x1="420.64" y1="469.10" x2="420.64" y2="466.60" stroke="#3a3a3a" stroke-width="1" stroke-linecap="butt"/>
<line x1="458.92" y1="469.10" x2="458.92" y2="466.60" stroke="#3a3a3a" stroke-width="1" stroke-linecap="butt"/>
<line x1="497.20" y1="469.10" x2="497.20" y2="466.60" stroke="#3a3a3a" stroke-width="1" stroke-linecap="butt"/>
<line x1="535.48" y1="469.10" x2="535.48" y2="466.60" stroke="#3a3a3a" stroke-width="1" stroke-linecap="butt"/>
<line x1="573.76" y1="469.10" x2="573.76" y2="466.60" stroke="#3a3a3a" stroke-width="1" stroke-linecap="butt"/>
<line x1="612.04" y1="469.10" x2="612.04" y2="466.60" stroke="#3a3a3a" stroke-width="1" stroke-linecap="butt"/>
<line x1="650.32" y1="469.10" x2="650.32" y2="466.60" stroke="#3a3a3a" stroke-width="1" stroke-linecap="butt"/>
<line x1="401.50" y1="289.10" x2="405.50" y2="289.10" stroke="#3a3a3a" stroke-width="1" stroke-linecap="butt"/>
<line x1="401.50" y1="329.10" x2="405.50" y2="329.10" stroke="#3a3a3a" stroke-width="1" stroke-linecap="butt"/>
<line x1="401.50" y1="369.10" x2="405.50" y2="369.10" stroke="#3a3a3a" stroke-width="1" stroke-linecap="butt"/>
<line x1="401.50" y1="409.10" x2="405.50" y2="409.10" stroke="#3a3a3a" stroke-width="1" stroke-linecap="butt"/>
<line x1="401.50" y1="449.10" x2="405.50" y2="449.10" stroke="#3a3a3a" stroke-width="1" stroke-linecap="butt"/>
<line x1="401.50" y1="269.10" x2="404.00" y2="269.10" stroke="#3a3a3a" stroke-width="1" stroke-linecap="butt"/>
<line x1="401.50" y1="309.10" x2="404.00" y2="309.10" stroke="#3a3a3a" stroke-width="1" stroke-linecap="butt"/>
<line x1="401.50" y1="349.10" x2="404.00" y2="349.10" stroke="#3a3a3a" stroke-width="1" stroke-linecap="butt"/>
<line x1="401.50" y1="389.10" x2="404.00" y2="389.10" stroke="#3a3a3a" stroke-width="1" stroke-linecap="butt"/>
<line x1="401.50" y1="429.10" x2="404.00" y2="429.10" stroke="#3a3a3a" stroke-width="1" stroke-linecap="butt"/>
<line x1="401.50" y1="469.10" x2="404.00" y2="469.10" stroke="#3a3a3a" stroke-width="1" stroke-linecap="butt"/>
<text x="397.50" y="294.60" font-size="17.0" text-anchor="end" >3.3</text>
<text x="397.50" y="334.60" font-size="17.0" text-anchor="end" >3.2</text>
<text x="397.50" y="374.60" font-size="17.0" text-anchor="end" >3.1</text>
<text x="397.50" y="414.60" font-size="17.0" text-anchor="end" >3.0</text>
<text x="397.50" y="454.60" font-size="17.0" text-anchor="end" >2.9</text>
<text x="401.50" y="486.60" font-size="16.8" text-anchor="middle" >0.2</text>
<text x="439.78" y="486.60" font-size="16.8" text-anchor="middle" >0.4</text>
<text x="478.06" y="486.60" font-size="16.8" text-anchor="middle" >0.6</text>
<text x="516.34" y="486.60" font-size="16.8" text-anchor="middle" >0.8</text>
<text x="554.62" y="486.60" font-size="16.8" text-anchor="middle" >1.0</text>
<text x="592.90" y="486.60" font-size="16.8" text-anchor="middle" >1.2</text>
<text x="631.18" y="486.60" font-size="16.8" text-anchor="middle" >1.4</text>
<text x="669.46" y="486.60" font-size="16.8" text-anchor="middle" >1.6</text>
<text x="530.10" y="506.20" font-size="16.9" text-anchor="middle" >Frequency(THz)</text>
<text x="0" y="0" font-size="22" transform="translate(363.8,392.6) rotate(-90)">n<tspan dy="2.8">eff</tspan></text>
<text x="350.10" y="276.20" font-size="17.2" text-anchor="start" >(d)</text>
<line x1="417.50" y1="288.40" x2="454.30" y2="288.40" stroke="#000" stroke-width="3.0" stroke-linecap="round"/>
<line x1="417.50" y1="309.00" x2="454.30" y2="309.00" stroke="#dd0a0c" stroke-width="3.0" stroke-linecap="round"/>
<text x="459.30" y="294.00" font-size="16.8" text-anchor="start" >0°</text>
<text x="459.30" y="314.80" font-size="16.8" text-anchor="start" >90°</text>
<path d="M401.5,357.92 L402.5,357.82 L403.5,357.66 L404.5,357.45 L405.5,357.19 L406.5,356.87 L407.5,356.50 L408.5,356.09 L409.5,355.63 L410.5,355.13 L411.5,354.60 L412.5,354.02 L413.5,353.41 L414.5,352.77 L415.5,352.10 L416.5,351.40 L417.5,350.67 L418.5,349.93 L419.5,349.16 L420.5,348.37 L421.5,347.57 L422.5,346.76 L423.5,345.93 L424.5,345.10 L425.5,344.26 L426.5,343.42 L427.5,342.57 L428.5,341.73 L429.5,340.89 L430.5,340.05 L431.5,339.23 L432.5,338.41 L433.5,337.61 L434.5,336.82 L435.5,336.05 L436.5,335.30 L437.5,334.57 L438.5,333.86 L439.5,333.18 L440.5,332.52 L441.5,331.88 L442.5,331.28 L443.5,330.70 L444.5,330.15 L445.5,329.64 L446.5,329.15 L447.5,328.70 L448.5,328.29 L449.5,327.91 L450.5,327.57 L451.5,327.26 L452.5,327.00 L453.5,326.77 L454.5,326.57 L455.5,326.41 L456.5,326.29 L457.5,326.19 L458.5,326.13 L459.5,326.09 L460.5,326.09 L461.5,326.11 L462.5,326.16 L463.5,326.23 L464.5,326.32 L465.5,326.43 L466.5,326.56 L467.5,326.71 L468.5,326.87 L469.5,327.04 L470.5,327.22 L471.5,327.41 L472.5,327.61 L473.5,327.81 L474.5,328.02 L475.5,328.23 L476.5,328.43 L477.5,328.64 L478.5,328.84 L479.5,329.03 L480.5,329.22 L481.5,329.39 L482.5,329.55 L483.5,329.70 L484.5,329.84 L485.5,329.96 L486.5,330.05 L487.5,330.13 L488.5,330.19 L489.5,330.22 L490.5,330.22 L491.5,330.19 L492.5,330.14 L493.5,330.05 L494.5,329.94 L495.5,329.80 L496.5,329.63 L497.5,329.43 L498.5,329.21 L499.5,328.97 L500.5,328.71 L501.5,328.43 L502.5,328.13 L503.5,327.81 L504.5,327.47 L505.5,327.12 L506.5,326.76 L507.5,326.38 L508.5,325.99 L509.5,325.60 L510.5,325.19 L511.5,324.78 L512.5,324.36 L513.5,323.93 L514.5,323.50 L515.5,323.06 L516.5,322.61 L517.5,322.17 L518.5,321.71 L519.5,321.26 L520.5,320.80 L521.5,320.33 L522.5,319.87 L523.5,319.40 L524.5,318.93 L525.5,318.47 L526.5,318.00 L527.5,317.53 L528.5,317.06 L529.5,316.59 L530.5,316.12 L531.5,315.66 L532.5,315.20 L533.5,314.74 L534.5,314.29 L535.5,313.84 L536.5,313.39 L537.5,312.95 L538.5,312.51 L539.5,312.08 L540.5,311.66 L541.5,311.24 L542.5,310.83 L543.5,310.43 L544.5,310.03 L545.5,309.64 L546.5,309.25 L547.5,308.87 L548.5,308.49 L549.5,308.12 L550.5,307.76 L551.5,307.40 L552.5,307.04 L553.5,306.69 L554.5,306.35 L555.5,306.00 L556.5,305.67 L557.5,305.33 L558.5,305.01 L559.5,304.68 L560.5,304.36 L561.5,304.04 L562.5,303.73 L563.5,303.42 L564.5,303.11 L565.5,302.80 L566.5,302.50 L567.5,302.20 L568.5,301.90 L569.5,301.61 L570.5,301.32 L571.5,301.03 L572.5,300.74 L573.5,300.45 L574.5,300.17 L575.5,299.89 L576.5,299.61 L577.5,299.33 L578.5,299.06 L579.5,298.78 L580.5,298.51 L581.5,298.24 L582.5,297.97 L583.5,297.70 L584.5,297.43 L585.5,297.16 L586.5,296.90 L587.5,296.63 L588.5,296.37 L589.5,296.10 L590.5,295.84 L591.5,295.58 L592.5,295.31 L593.5,295.05 L594.5,294.79 L595.5,294.53 L596.5,294.26 L597.5,294.00 L598.5,293.74 L599.5,293.48 L600.5,293.21 L601.5,292.95 L602.5,292.69 L603.5,292.42 L604.5,292.15 L605.5,291.89 L606.5,291.62 L607.5,291.35 L608.5,291.08 L609.5,290.81 L610.5,290.54 L611.5,290.26 L612.5,289.99 L613.5,289.71 L614.5,289.43 L615.5,289.15 L616.5,288.87 L617.5,288.58 L618.5,288.30 L619.5,288.01 L620.5,287.72 L621.5,287.43 L622.5,287.14 L623.5,286.84 L624.5,286.55 L625.5,286.25 L626.5,285.96 L627.5,285.66 L628.5,285.36 L629.5,285.06 L630.5,284.76 L631.5,284.46 L632.5,284.15 L633.5,283.85 L634.5,283.55 L635.5,283.25 L636.5,282.94 L637.5,282.64 L638.5,282.33 L639.5,282.03 L640.5,281.73 L641.5,281.42 L642.5,281.12 L643.5,280.81 L644.5,280.51 L645.5,280.21 L646.5,279.91 L647.5,279.60 L648.5,279.30 L649.5,279.00 L650.5,278.70 L651.5,278.40 L652.5,278.10 L653.5,277.81 L654.5,277.51 L655.5,277.22 L656.5,276.92 L657.5,276.63 L658.5,276.34 L659.5,276.05 L660.5,275.76 L661.5,275.47 L662.5,275.19 L663.5,274.90 L664.5,274.62 L665.5,274.34 L666.5,274.06 L667.5,273.79 L668.5,273.52 L669.5,273.24" fill="none" stroke="#000" stroke-width="2.9" stroke-linejoin="round"/>
<path d="M401.5,419.68 L402.5,419.11 L403.5,418.57 L404.5,418.08 L405.5,417.61 L406.5,417.19 L407.5,416.79 L408.5,416.43 L409.5,416.09 L410.5,415.79 L411.5,415.51 L412.5,415.25 L413.5,415.02 L414.5,414.82 L415.5,414.63 L416.5,414.47 L417.5,414.32 L418.5,414.19 L419.5,414.08 L420.5,413.99 L421.5,413.90 L422.5,413.84 L423.5,413.78 L424.5,413.74 L425.5,413.70 L426.5,413.68 L427.5,413.67 L428.5,413.66 L429.5,413.66 L430.5,413.67 L431.5,413.68 L432.5,413.70 L433.5,413.72 L434.5,413.75 L435.5,413.77 L436.5,413.80 L437.5,413.82 L438.5,413.85 L439.5,413.87 L440.5,413.89 L441.5,413.91 L442.5,413.92 L443.5,413.92 L444.5,413.92 L445.5,413.91 L446.5,413.90 L447.5,413.87 L448.5,413.84 L449.5,413.79 L450.5,413.73 L451.5,413.66 L452.5,413.57 L453.5,413.47 L454.5,413.35 L455.5,413.22 L456.5,413.08 L457.5,412.93 L458.5,412.76 L459.5,412.59 L460.5,412.40 L461.5,412.21 L462.5,412.01 L463.5,411.80 L464.5,411.58 L465.5,411.36 L466.5,411.13 L467.5,410.90 L468.5,410.66 L469.5,410.43 L470.5,410.19 L471.5,409.94 L472.5,409.70 L473.5,409.46 L474.5,409.22 L475.5,408.98 L476.5,408.74 L477.5,408.51 L478.5,408.28 L479.5,408.05 L480.5,407.83 L481.5,407.62 L482.5,407.41 L483.5,407.21 L484.5,407.02 L485.5,406.83 L486.5,406.65 L487.5,406.47 L488.5,406.31 L489.5,406.14 L490.5,405.99 L491.5,405.84 L492.5,405.69 L493.5,405.56 L494.5,405.42 L495.5,405.30 L496.5,405.18 L497.5,405.06 L498.5,404.95 L499.5,404.85 L500.5,404.75 L501.5,404.65 L502.5,404.56 L503.5,404.48 L504.5,404.40 L505.5,404.32 L506.5,404.25 L507.5,404.19 L508.5,404.12 L509.5,404.07 L510.5,404.01 L511.5,403.96 L512.5,403.91 L513.5,403.87 L514.5,403.82 L515.5,403.78 L516.5,403.73 L517.5,403.69 L518.5,403.64 L519.5,403.60 L520.5,403.55 L521.5,403.50 L522.5,403.44 L523.5,403.39 L524.5,403.33 L525.5,403.26 L526.5,403.19 L527.5,403.12 L528.5,403.04 L529.5,402.95 L530.5,402.86 L531.5,402.76 L532.5,402.66 L533.5,402.55 L534.5,402.44 L535.5,402.33 L536.5,402.21 L537.5,402.08 L538.5,401.96 L539.5,401.83 L540.5,401.69 L541.5,401.56 L542.5,401.42 L543.5,401.28 L544.5,401.14 L545.5,401.00 L546.5,400.85 L547.5,400.70 L548.5,400.56 L549.5,400.41 L550.5,400.26 L551.5,400.11 L552.5,399.96 L553.5,399.81 L554.5,399.67 L555.5,399.52 L556.5,399.37 L557.5,399.23 L558.5,399.09 L559.5,398.94 L560.5,398.81 L561.5,398.67 L562.5,398.53 L563.5,398.40 L564.5,398.27 L565.5,398.15 L566.5,398.02 L567.5,397.90 L568.5,397.77 L569.5,397.65 L570.5,397.53 L571.5,397.41 L572.5,397.28 L573.5,397.16 L574.5,397.03 L575.5,396.91 L576.5,396.78 L577.5,396.64 L578.5,396.51 L579.5,396.37 L580.5,396.23 L581.5,396.08 L582.5,395.93 L583.5,395.77 L584.5,395.61 L585.5,395.45 L586.5,395.27 L587.5,395.09 L588.5,394.91 L589.5,394.72 L590.5,394.51 L591.5,394.31 L592.5,394.09 L593.5,393.86 L594.5,393.63 L595.5,393.38 L596.5,393.13 L597.5,392.86 L598.5,392.59 L599.5,392.30 L600.5,392.00 L601.5,391.69 L602.5,391.37 L603.5,391.04 L604.5,390.69 L605.5,390.34 L606.5,389.97 L607.5,389.59 L608.5,389.20 L609.5,388.79 L610.5,388.38 L611.5,387.95 L612.5,387.51 L613.5,387.06 L614.5,386.60 L615.5,386.13 L616.5,385.64 L617.5,385.14 L618.5,384.64 L619.5,384.11 L620.5,383.58 L621.5,383.04 L622.5,382.48 L623.5,381.91 L624.5,381.33 L625.5,380.74 L626.5,380.14 L627.5,379.52 L628.5,378.89 L629.5,378.25 L630.5,377.60 L631.5,376.94 L632.5,376.27 L633.5,375.58 L634.5,374.88 L635.5,374.17 L636.5,373.45 L637.5,372.71 L638.5,371.97 L639.5,371.21 L640.5,370.44 L641.5,369.66 L642.5,368.87 L643.5,368.07 L644.5,367.26 L645.5,366.45 L646.5,365.63 L647.5,364.80 L648.5,363.98 L649.5,363.15 L650.5,362.32 L651.5,361.49 L652.5,360.66 L653.5,359.83 L654.5,359.01 L655.5,358.19 L656.5,357.38 L657.5,356.57 L658.5,355.77 L659.5,354.98 L660.5,354.20 L661.5,353.43 L662.5,352.67 L663.5,351.93 L664.5,351.20 L665.5,350.48 L666.5,349.79 L667.5,349.11 L668.5,348.44 L669.4,347.87" fill="none" stroke="#dd0a0c" stroke-width="2.8" stroke-linejoin="round"/>
</svg>
</body></html>
